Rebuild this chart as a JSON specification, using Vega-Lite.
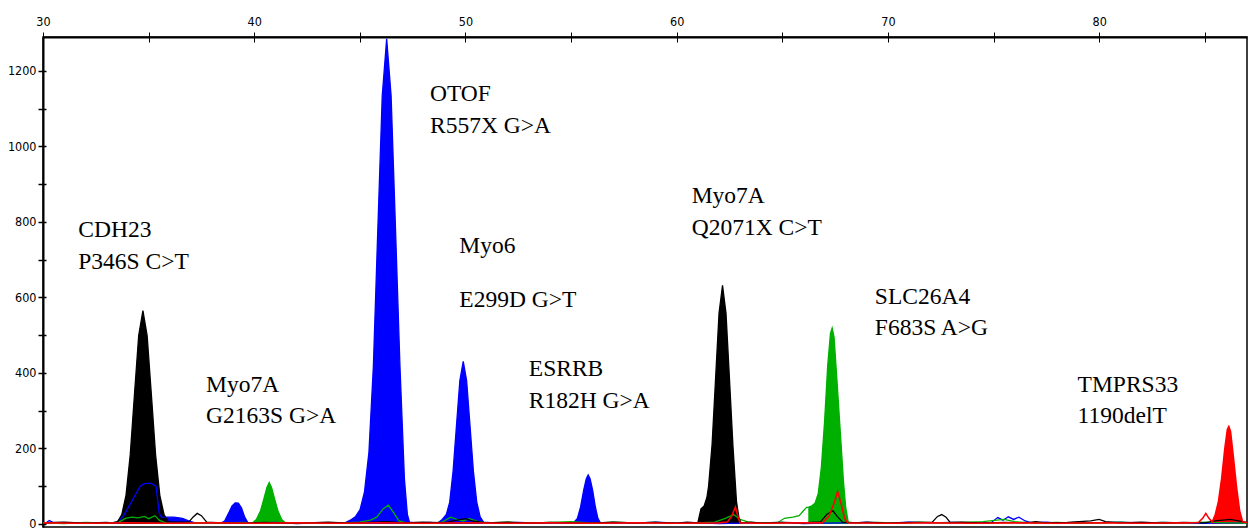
{
  "$schema": "https://vega.github.io/schema/vega-lite/v6.json",
  "autosize": {"type": "none"},
  "padding": {"left": 43, "top": 37, "right": 1, "bottom": 3},
  "width": 1204,
  "height": 490,
  "background": "white",
  "config": {
    "view": {"stroke": "black", "strokeWidth": 1.5},
    "axis": {"grid": false, "title": null, "domainColor": "black", "tickColor": "black", "labelColor": "black", "labelFont": "DejaVu Sans Condensed", "labelFontSize": 12.5}
  },
  "resolve": {"axis": {"x": "independent", "y": "independent"}},
  "datasets": {
    "tr": [
      {"d":"b","x":30,"y":2},{"d":"b","x":30.15,"y":3},{"d":"b","x":30.3,"y":9},{"d":"b","x":30.5,"y":3},{"d":"b","x":31.5,"y":3},{"d":"b","x":32.5,"y":2},
      {"d":"b","x":33.2,"y":3,"p":"b0"},{"d":"b","x":33.5,"y":5,"p":"b0"},{"d":"b","x":33.8,"y":20,"p":"b0"},{"d":"b","x":34.0,"y":40,"p":"b0"},{"d":"b","x":34.2,"y":60,"p":"b0"},{"d":"b","x":34.4,"y":80,"p":"b0"},{"d":"b","x":34.6,"y":100,"p":"b0"},{"d":"b","x":34.8,"y":107,"p":"b0"},{"d":"b","x":35.1,"y":108,"p":"b0"},{"d":"b","x":35.35,"y":100,"p":"b0"},{"d":"b","x":35.5,"y":30,"p":"b0"},{"d":"b","x":35.6,"y":18,"p":"b0"},{"d":"b","x":36.2,"y":18,"p":"b0"},{"d":"b","x":36.6,"y":15,"p":"b0"},{"d":"b","x":36.9,"y":8,"p":"b0"},{"d":"b","x":37.2,"y":3,"p":"b0"},
      {"d":"b","x":37.7,"y":2},{"d":"b","x":38.2,"y":2},
      {"d":"b","x":38.4,"y":2,"p":"b1"},{"d":"b","x":38.6,"y":8,"p":"b1"},{"d":"b","x":38.8,"y":30,"p":"b1"},{"d":"b","x":38.95,"y":48,"p":"b1"},{"d":"b","x":39.1,"y":56,"p":"b1"},{"d":"b","x":39.25,"y":55,"p":"b1"},{"d":"b","x":39.4,"y":42,"p":"b1"},{"d":"b","x":39.55,"y":18,"p":"b1"},{"d":"b","x":39.7,"y":3,"p":"b1"},
      {"d":"b","x":40.2,"y":2},{"d":"b","x":41.0,"y":4},{"d":"b","x":42.0,"y":1},{"d":"b","x":43.0,"y":3},{"d":"b","x":43.8,"y":2},
      {"d":"b","x":44.3,"y":3,"p":"b2"},{"d":"b","x":44.55,"y":10,"p":"b2"},{"d":"b","x":44.8,"y":20,"p":"b2"},{"d":"b","x":45.01,"y":38,"p":"b2"},{"d":"b","x":45.22,"y":85,"p":"b2"},{"d":"b","x":45.43,"y":190,"p":"b2"},{"d":"b","x":45.64,"y":417,"p":"b2"},{"d":"b","x":45.85,"y":779,"p":"b2"},{"d":"b","x":46.06,"y":1134,"p":"b2"},{"d":"b","x":46.27,"y":1285,"p":"b2"},{"d":"b","x":46.48,"y":1134,"p":"b2"},{"d":"b","x":46.69,"y":779,"p":"b2"},{"d":"b","x":46.9,"y":417,"p":"b2"},{"d":"b","x":47.11,"y":120,"p":"b2"},{"d":"b","x":47.25,"y":25,"p":"b2"},{"d":"b","x":47.35,"y":5,"p":"b2"},
      {"d":"b","x":47.7,"y":2},{"d":"b","x":48.3,"y":4},
      {"d":"b","x":48.7,"y":3,"p":"b3"},{"d":"b","x":48.9,"y":12,"p":"b3"},{"d":"b","x":49.095,"y":25,"p":"b3"},{"d":"b","x":49.255,"y":58,"p":"b3"},{"d":"b","x":49.415,"y":140,"p":"b3"},{"d":"b","x":49.575,"y":261,"p":"b3"},{"d":"b","x":49.735,"y":380,"p":"b3"},{"d":"b","x":49.895,"y":431,"p":"b3"},{"d":"b","x":50.055,"y":380,"p":"b3"},{"d":"b","x":50.215,"y":261,"p":"b3"},{"d":"b","x":50.375,"y":140,"p":"b3"},{"d":"b","x":50.535,"y":58,"p":"b3"},{"d":"b","x":50.695,"y":19,"p":"b3"},{"d":"b","x":50.855,"y":5,"p":"b3"},
      {"d":"b","x":51.5,"y":2},{"d":"b","x":52.5,"y":4},{"d":"b","x":53.5,"y":2},{"d":"b","x":54.5,"y":3},{"d":"b","x":54.9,"y":2},
      {"d":"b","x":55.1,"y":2,"p":"b4"},{"d":"b","x":55.3,"y":15,"p":"b4"},{"d":"b","x":55.45,"y":45,"p":"b4"},{"d":"b","x":55.6,"y":90,"p":"b4"},{"d":"b","x":55.72,"y":120,"p":"b4"},{"d":"b","x":55.81,"y":130,"p":"b4"},{"d":"b","x":55.9,"y":120,"p":"b4"},{"d":"b","x":56.02,"y":90,"p":"b4"},{"d":"b","x":56.15,"y":45,"p":"b4"},{"d":"b","x":56.27,"y":15,"p":"b4"},{"d":"b","x":56.4,"y":2,"p":"b4"},
      {"d":"b","x":57,"y":3},{"d":"b","x":58,"y":2},{"d":"b","x":59,"y":5},{"d":"b","x":60,"y":2},{"d":"b","x":61,"y":3},{"d":"b","x":62,"y":1},{"d":"b","x":63,"y":2},{"d":"b","x":64,"y":3},{"d":"b","x":65,"y":4},{"d":"b","x":66,"y":1},{"d":"b","x":67,"y":2},{"d":"b","x":68,"y":3},{"d":"b","x":69,"y":4},{"d":"b","x":70,"y":2},{"d":"b","x":71,"y":5},{"d":"b","x":72,"y":3},{"d":"b","x":73,"y":4},{"d":"b","x":74,"y":3},{"d":"b","x":74.9,"y":4},{"d":"b","x":75.2,"y":17},{"d":"b","x":75.45,"y":10},{"d":"b","x":75.7,"y":19},{"d":"b","x":75.95,"y":12},{"d":"b","x":76.2,"y":18},{"d":"b","x":76.5,"y":8},{"d":"b","x":76.8,"y":3},{"d":"b","x":77.5,"y":5},{"d":"b","x":78,"y":2},{"d":"b","x":79,"y":4},{"d":"b","x":80,"y":3},{"d":"b","x":81,"y":5},{"d":"b","x":82,"y":2},{"d":"b","x":83,"y":4},{"d":"b","x":84,"y":3},{"d":"b","x":85,"y":2},{"d":"b","x":86,"y":3},{"d":"b","x":87,"y":2},

      {"d":"g","x":30,"y":3},{"d":"g","x":31,"y":1},{"d":"g","x":32,"y":4},{"d":"g","x":33,"y":2},{"d":"g","x":33.6,"y":5},{"d":"g","x":33.9,"y":15},{"d":"g","x":34.2,"y":18},{"d":"g","x":34.5,"y":16},{"d":"g","x":34.8,"y":20},{"d":"g","x":35.0,"y":14},{"d":"g","x":35.3,"y":22},{"d":"g","x":35.5,"y":10},{"d":"g","x":35.8,"y":3},{"d":"g","x":36.5,"y":2},{"d":"g","x":37.5,"y":3},{"d":"g","x":38.5,"y":2},{"d":"g","x":39.5,"y":4},
      {"d":"g","x":39.9,"y":2,"p":"g1"},{"d":"g","x":40.1,"y":12,"p":"g1"},{"d":"g","x":40.3,"y":35,"p":"g1"},{"d":"g","x":40.45,"y":65,"p":"g1"},{"d":"g","x":40.6,"y":97,"p":"g1"},{"d":"g","x":40.71,"y":110,"p":"g1"},{"d":"g","x":40.82,"y":97,"p":"g1"},{"d":"g","x":40.97,"y":65,"p":"g1"},{"d":"g","x":41.12,"y":35,"p":"g1"},{"d":"g","x":41.3,"y":12,"p":"g1"},{"d":"g","x":41.5,"y":2,"p":"g1"},
      {"d":"g","x":42,"y":2},{"d":"g","x":43,"y":3},{"d":"g","x":44,"y":2},{"d":"g","x":45,"y":5},{"d":"g","x":45.5,"y":10},{"d":"g","x":45.8,"y":18},{"d":"g","x":46.1,"y":40},{"d":"g","x":46.35,"y":50},{"d":"g","x":46.6,"y":30},{"d":"g","x":46.85,"y":8},{"d":"g","x":47.2,"y":3},{"d":"g","x":48,"y":2},{"d":"g","x":48.9,"y":5},{"d":"g","x":49.3,"y":18},{"d":"g","x":49.6,"y":12},{"d":"g","x":49.9,"y":8},{"d":"g","x":50.2,"y":14},{"d":"g","x":50.6,"y":6},{"d":"g","x":51,"y":3},{"d":"g","x":52,"y":5},{"d":"g","x":53,"y":2},{"d":"g","x":54,"y":4},{"d":"g","x":55,"y":6},{"d":"g","x":56,"y":2},{"d":"g","x":57,"y":5},{"d":"g","x":58,"y":3},{"d":"g","x":59,"y":4},{"d":"g","x":60,"y":2},{"d":"g","x":61,"y":3},{"d":"g","x":61.8,"y":5},{"d":"g","x":62.3,"y":15},{"d":"g","x":62.7,"y":25},{"d":"g","x":63.0,"y":12},{"d":"g","x":63.4,"y":5},{"d":"g","x":64,"y":3},{"d":"g","x":64.8,"y":4},{"d":"g","x":65.1,"y":15},{"d":"g","x":65.5,"y":18},{"d":"g","x":65.8,"y":22},{"d":"g","x":66.0,"y":35},{"d":"g","x":66.15,"y":44},
      {"d":"g","x":66.23,"y":44,"p":"g2"},{"d":"g","x":66.4,"y":48,"p":"g2"},{"d":"g","x":66.55,"y":55,"p":"g2"},{"d":"g","x":66.7,"y":80,"p":"g2"},{"d":"g","x":66.85,"y":150,"p":"g2"},{"d":"g","x":67.0,"y":270,"p":"g2"},{"d":"g","x":67.15,"y":420,"p":"g2"},{"d":"g","x":67.28,"y":505,"p":"g2"},{"d":"g","x":67.36,"y":519,"p":"g2"},{"d":"g","x":67.45,"y":495,"p":"g2"},{"d":"g","x":67.6,"y":370,"p":"g2"},{"d":"g","x":67.75,"y":240,"p":"g2"},{"d":"g","x":67.9,"y":110,"p":"g2"},{"d":"g","x":68.0,"y":45,"p":"g2"},{"d":"g","x":68.12,"y":5,"p":"g2"},
      {"d":"g","x":68.5,"y":3},{"d":"g","x":69.5,"y":4},{"d":"g","x":70.5,"y":2},{"d":"g","x":71.5,"y":5},{"d":"g","x":72.5,"y":3},{"d":"g","x":73.5,"y":4},{"d":"g","x":74.5,"y":6},{"d":"g","x":75.5,"y":12},{"d":"g","x":76,"y":6},{"d":"g","x":77,"y":3},{"d":"g","x":78,"y":4},{"d":"g","x":79,"y":2},{"d":"g","x":80,"y":3},{"d":"g","x":81,"y":5},{"d":"g","x":82,"y":2},{"d":"g","x":83,"y":4},{"d":"g","x":84,"y":3},{"d":"g","x":85,"y":5},{"d":"g","x":86,"y":3},{"d":"g","x":87,"y":2},

      {"d":"k","x":30,"y":2},{"d":"k","x":30.5,"y":4},{"d":"k","x":31,"y":5},{"d":"k","x":32,"y":2},{"d":"k","x":33,"y":4},{"d":"k","x":33.3,"y":3},
      {"d":"k","x":33.53,"y":6,"p":"k1"},{"d":"k","x":33.73,"y":25,"p":"k1"},{"d":"k","x":33.93,"y":76,"p":"k1"},{"d":"k","x":34.13,"y":183,"p":"k1"},{"d":"k","x":34.33,"y":343,"p":"k1"},{"d":"k","x":34.53,"y":499,"p":"k1"},{"d":"k","x":34.73,"y":565,"p":"k1"},{"d":"k","x":34.93,"y":499,"p":"k1"},{"d":"k","x":35.13,"y":343,"p":"k1"},{"d":"k","x":35.33,"y":183,"p":"k1"},{"d":"k","x":35.53,"y":76,"p":"k1"},{"d":"k","x":35.73,"y":25,"p":"k1"},{"d":"k","x":35.93,"y":6,"p":"k1"},
      {"d":"k","x":36.3,"y":5},{"d":"k","x":36.9,"y":5},{"d":"k","x":37.1,"y":18},{"d":"k","x":37.3,"y":28},{"d":"k","x":37.5,"y":22},{"d":"k","x":37.75,"y":5},{"d":"k","x":38.5,"y":3},{"d":"k","x":39.5,"y":2},{"d":"k","x":40.5,"y":4},{"d":"k","x":41.5,"y":2},{"d":"k","x":42.5,"y":3},{"d":"k","x":43.5,"y":5},{"d":"k","x":44.5,"y":2},{"d":"k","x":45.5,"y":4},{"d":"k","x":46.3,"y":6},{"d":"k","x":47,"y":3},{"d":"k","x":48,"y":5},{"d":"k","x":49,"y":3},{"d":"k","x":49.6,"y":10},{"d":"k","x":50,"y":14},{"d":"k","x":50.3,"y":8},{"d":"k","x":51,"y":3},{"d":"k","x":52,"y":5},{"d":"k","x":53,"y":2},{"d":"k","x":54,"y":4},{"d":"k","x":55,"y":3},{"d":"k","x":56,"y":2},{"d":"k","x":57,"y":5},{"d":"k","x":58,"y":3},{"d":"k","x":59,"y":4},{"d":"k","x":60,"y":2},{"d":"k","x":60.5,"y":5},
      {"d":"k","x":61.0,"y":3,"p":"k2"},{"d":"k","x":61.15,"y":40,"p":"k2"},{"d":"k","x":61.3,"y":48,"p":"k2"},{"d":"k","x":61.43,"y":70,"p":"k2"},{"d":"k","x":61.51,"y":100,"p":"k2"},{"d":"k","x":61.675,"y":210,"p":"k2"},{"d":"k","x":61.84,"y":383,"p":"k2"},{"d":"k","x":62.005,"y":558,"p":"k2"},{"d":"k","x":62.17,"y":632,"p":"k2"},{"d":"k","x":62.335,"y":558,"p":"k2"},{"d":"k","x":62.5,"y":383,"p":"k2"},{"d":"k","x":62.665,"y":205,"p":"k2"},{"d":"k","x":62.83,"y":60,"p":"k2"},{"d":"k","x":62.95,"y":15,"p":"k2"},{"d":"k","x":63.05,"y":3,"p":"k2"},
      {"d":"k","x":63.5,"y":5},{"d":"k","x":64,"y":2},{"d":"k","x":65,"y":4},{"d":"k","x":66,"y":3},{"d":"k","x":66.5,"y":5},{"d":"k","x":66.8,"y":5},{"d":"k","x":67.1,"y":25},{"d":"k","x":67.4,"y":35},{"d":"k","x":67.6,"y":20},{"d":"k","x":67.85,"y":5},{"d":"k","x":68.5,"y":3},{"d":"k","x":69,"y":5},{"d":"k","x":70,"y":2},{"d":"k","x":71,"y":4},{"d":"k","x":72.1,"y":5},{"d":"k","x":72.35,"y":20},{"d":"k","x":72.55,"y":25},{"d":"k","x":72.75,"y":18},{"d":"k","x":72.95,"y":4},{"d":"k","x":73.5,"y":5},{"d":"k","x":74.5,"y":2},{"d":"k","x":75.5,"y":4},{"d":"k","x":76.5,"y":3},{"d":"k","x":77,"y":6},{"d":"k","x":77.5,"y":3},{"d":"k","x":78.5,"y":4},{"d":"k","x":79.6,"y":8},{"d":"k","x":80,"y":12},{"d":"k","x":80.3,"y":6},{"d":"k","x":81,"y":3},{"d":"k","x":82,"y":5},{"d":"k","x":83,"y":2},{"d":"k","x":84,"y":4},{"d":"k","x":85,"y":3},{"d":"k","x":85.5,"y":8},{"d":"k","x":86.2,"y":12},{"d":"k","x":86.6,"y":8},{"d":"k","x":87,"y":4},

      {"d":"r","x":30,"y":3},{"d":"r","x":32,"y":2},{"d":"r","x":34,"y":3},{"d":"r","x":36,"y":2},{"d":"r","x":38,"y":3},{"d":"r","x":40,"y":2},{"d":"r","x":42,"y":3},{"d":"r","x":44,"y":2},{"d":"r","x":46,"y":3},{"d":"r","x":48,"y":2},{"d":"r","x":50,"y":3},{"d":"r","x":52,"y":2},{"d":"r","x":54,"y":3},{"d":"r","x":56,"y":2},{"d":"r","x":58,"y":3},{"d":"r","x":60,"y":2},{"d":"r","x":62,"y":3},{"d":"r","x":62.4,"y":5},{"d":"r","x":62.6,"y":20},{"d":"r","x":62.78,"y":45},{"d":"r","x":62.9,"y":20},{"d":"r","x":63.0,"y":3},{"d":"r","x":64,"y":2},{"d":"r","x":66,"y":3},{"d":"r","x":66.9,"y":3},{"d":"r","x":67.2,"y":20},{"d":"r","x":67.45,"y":55},{"d":"r","x":67.62,"y":86},{"d":"r","x":67.8,"y":50},{"d":"r","x":67.95,"y":15},{"d":"r","x":68.1,"y":3},{"d":"r","x":70,"y":2},{"d":"r","x":72,"y":3},{"d":"r","x":74,"y":2},{"d":"r","x":76,"y":3},{"d":"r","x":78,"y":2},{"d":"r","x":80,"y":3},{"d":"r","x":82,"y":2},{"d":"r","x":84,"y":3},{"d":"r","x":84.7,"y":4},{"d":"r","x":84.9,"y":15},{"d":"r","x":85.05,"y":28},{"d":"r","x":85.2,"y":15},
      {"d":"r","x":85.35,"y":5,"p":"r1"},{"d":"r","x":85.5,"y":25,"p":"r1"},{"d":"r","x":85.65,"y":60,"p":"r1"},{"d":"r","x":85.8,"y":120,"p":"r1"},{"d":"r","x":85.95,"y":200,"p":"r1"},{"d":"r","x":86.07,"y":250,"p":"r1"},{"d":"r","x":86.14,"y":258,"p":"r1"},{"d":"r","x":86.22,"y":245,"p":"r1"},{"d":"r","x":86.35,"y":180,"p":"r1"},{"d":"r","x":86.5,"y":100,"p":"r1"},{"d":"r","x":86.65,"y":35,"p":"r1"},{"d":"r","x":86.8,"y":5,"p":"r1"},
      {"d":"r","x":87,"y":4}
    ],
    "lab": [
      {"t":"CDH23","x":31.67,"y":760},{"t":"P346S C>T","x":31.67,"y":675},
      {"t":"Myo7A","x":37.72,"y":350},{"t":"G2163S G>A","x":37.72,"y":267},
      {"t":"OTOF","x":48.32,"y":1120},{"t":"R557X G>A","x":48.32,"y":1035},
      {"t":"Myo6","x":49.71,"y":718},{"t":"E299D G>T","x":49.71,"y":575},
      {"t":"ESRRB","x":53.0,"y":392},{"t":"R182H G>A","x":53.0,"y":307},
      {"t":"Myo7A","x":60.71,"y":849},{"t":"Q2071X C>T","x":60.71,"y":765},
      {"t":"SLC26A4","x":69.38,"y":584},{"t":"F683S A>G","x":69.38,"y":500},
      {"t":"TMPRS33","x":78.98,"y":350},{"t":"1190delT","x":78.98,"y":267}
    ]
  },
  "layer": [
    {
      "data": {"name": "tr"},
      "transform": [{"filter": "datum.d === 'b' && datum.p"}],
      "mark": {"type": "area", "color": "#0000ff", "clip": true},
      "encoding": {
        "x": {"field": "x", "type": "quantitative", "scale": {"domain": [30, 87], "nice": false, "zero": false},
              "axis": {"orient": "top", "values": [30,35,40,45,50,55,60,65,70,75,80,85], "labelExpr": "datum.value % 10 === 0 ? datum.label : ''", "tickSize": 5, "tickWidth": 1, "domainWidth": 2, "labelPadding": 4, "labelFlush": false, "labelAngle": 0}},
        "y": {"field": "y", "type": "quantitative", "stack": null, "scale": {"domain": [-8, 1290], "nice": false, "zero": false},
              "axis": {"orient": "left", "values": [0,100,200,300,400,500,600,700,800,900,1000,1100,1200], "format": "d", "labelExpr": "datum.value % 200 === 0 ? datum.label : ''", "tickSize": 5, "tickWidth": 1.5, "domainWidth": 2, "labelPadding": 2, "labelFlush": false}},
        "detail": {"field": "p"}
      }
    },
    {
      "data": {"name": "tr"},
      "transform": [{"filter": "datum.d === 'g' && datum.p"}],
      "mark": {"type": "area", "color": "#00b000", "clip": true},
      "encoding": {
        "x": {"field": "x", "type": "quantitative", "axis": null},
        "y": {"field": "y", "type": "quantitative", "stack": null, "axis": null},
        "detail": {"field": "p"}
      }
    },
    {
      "data": {"name": "tr"},
      "transform": [{"filter": "datum.d === 'k' && datum.p"}],
      "mark": {"type": "area", "color": "#000000", "clip": true},
      "encoding": {
        "x": {"field": "x", "type": "quantitative", "axis": null},
        "y": {"field": "y", "type": "quantitative", "stack": null, "axis": null},
        "detail": {"field": "p"}
      }
    },
    {
      "data": {"name": "tr"},
      "transform": [{"filter": "datum.d === 'r' && datum.p"}],
      "mark": {"type": "area", "color": "#ff0000", "clip": true},
      "encoding": {
        "x": {"field": "x", "type": "quantitative", "axis": null},
        "y": {"field": "y", "type": "quantitative", "stack": null, "axis": null},
        "detail": {"field": "p"}
      }
    },
    {
      "data": {"name": "tr"},
      "transform": [{"filter": "datum.d === 'b'"}],
      "mark": {"type": "line", "color": "#0000ff", "strokeWidth": 1.3, "clip": true},
      "encoding": {
        "x": {"field": "x", "type": "quantitative",
              "axis": {"orient": "top", "values": [30,35,40,45,50,55,60,65,70,75,80,85], "labels": false, "domain": false, "tickSize": -5, "tickWidth": 1}},
        "y": {"field": "y", "type": "quantitative",
              "axis": {"orient": "left", "values": [0,100,200,300,400,500,600,700,800,900,1000,1100,1200], "labels": false, "domain": false, "tickSize": -3, "tickWidth": 1.5}}
      }
    },
    {
      "data": {"name": "tr"},
      "transform": [{"filter": "datum.d === 'g'"}],
      "mark": {"type": "line", "color": "#00b000", "strokeWidth": 1.3, "clip": true},
      "encoding": {
        "x": {"field": "x", "type": "quantitative", "axis": null},
        "y": {"field": "y", "type": "quantitative", "axis": null}
      }
    },
    {
      "data": {"name": "tr"},
      "transform": [{"filter": "datum.d === 'k'"}],
      "mark": {"type": "line", "color": "#000000", "strokeWidth": 1.3, "clip": true},
      "encoding": {
        "x": {"field": "x", "type": "quantitative", "axis": null},
        "y": {"field": "y", "type": "quantitative", "axis": null}
      }
    },
    {
      "data": {"name": "tr"},
      "transform": [{"filter": "datum.d === 'r'"}],
      "mark": {"type": "line", "color": "#ff0000", "strokeWidth": 1.6, "clip": true},
      "encoding": {
        "x": {"field": "x", "type": "quantitative", "axis": null},
        "y": {"field": "y", "type": "quantitative", "axis": null}
      }
    },
    {
      "data": {"name": "lab"},
      "mark": {"type": "text", "align": "left", "baseline": "alphabetic", "font": "Liberation Serif, Times New Roman, serif", "fontSize": 23.5, "color": "black"},
      "encoding": {
        "x": {"field": "x", "type": "quantitative", "axis": null},
        "y": {"field": "y", "type": "quantitative", "axis": null},
        "text": {"field": "t"}
      }
    }
  ]
}
